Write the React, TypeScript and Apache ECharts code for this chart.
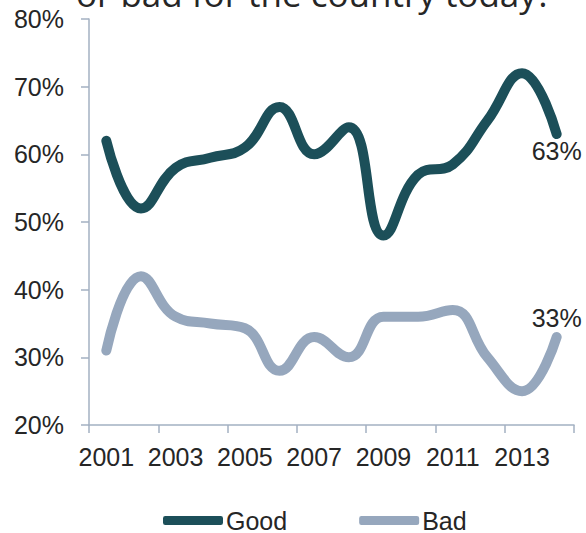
import React, { useEffect, useRef } from "react";
import * as echarts from "echarts";

const years = ["2001", "2002", "2003", "2004", "2005", "2006", "2007", "2008", "2009", "2010", "2011", "2012", "2013", "2014"];
const goodValues = [62, 52, 58, 59.5, 61, 67, 60, 64, 48, 57, 58.5, 65, 72, 63];
const badValues = [31, 42, 36, 35, 34.3, 28, 33, 30, 36, 36, 37, 30, 25, 33];
const yTicks = { min: 20, max: 80, interval: 10 };
const titleText = "or bad for the country today?";

export default function App() {
  const ref = useRef<HTMLDivElement>(null);
  useEffect(() => {
    if (!ref.current) return;
    const chart = echarts.init(ref.current, null, { renderer: "svg" });
    const font = "'Liberation Sans', Arial, sans-serif";
    const textColor = "#262626";
    const axisColor = "#a3b1c2";
    const lastLabel = (vals: number[], pos: string) =>
      vals.map((v, i) =>
        i === vals.length - 1
          ? {
              value: v,
              label: {
                show: true,
                position: pos,
                distance: pos === "bottom" ? 3 : 6,
                formatter: "{c}%",
                fontSize: 25,
                fontFamily: font,
                color: textColor,
              },
            }
          : v
      );
    chart.setOption({
      animation: false,
      backgroundColor: "#ffffff",
      textStyle: { fontFamily: font },
      graphic: [
        {
          type: "text",
          left: 76,
          top: -24,
          style: {
            text: titleText,
            fontSize: 35,
            fontFamily: "'Open Sans', sans-serif",
            fill: textColor,
          },
        },
      ],
      grid: { left: 89, right: 12, top: 19, bottom: 108, containLabel: false },
      legend: {
        left: 163,
        top: 508,
        padding: 0,
        itemWidth: 60,
        itemHeight: 9,
        itemGap: 72,
        icon: "roundRect",
        textStyle: { fontSize: 25, color: textColor, fontFamily: font, padding: [0, 0, 0, -2] },
        data: ["Good", "Bad"],
      },
      xAxis: {
        type: "category",
        data: years,
        boundaryGap: true,
        axisLine: { show: true, lineStyle: { color: axisColor, width: 1.5 } },
        axisTick: { show: true, interval: 1, length: 8, lineStyle: { color: axisColor, width: 1.5 } },
        axisLabel: { interval: 1, fontSize: 25, color: textColor, margin: 19, fontFamily: font },
        splitLine: { show: false },
      },
      yAxis: {
        type: "value",
        min: yTicks.min,
        max: yTicks.max,
        interval: yTicks.interval,
        axisLine: { show: true, lineStyle: { color: axisColor, width: 1.5 } },
        axisTick: { show: true, length: 8, lineStyle: { color: axisColor, width: 1.5 } },
        axisLabel: { formatter: "{value}%", fontSize: 25, color: textColor, margin: 25, fontFamily: font },
        splitLine: { show: false },
      },
      series: [
        {
          name: "Good",
          type: "line",
          data: lastLabel(goodValues, "bottom"),
          smooth: 0.45,
          showSymbol: true,
          symbol: "circle",
          symbolSize: 2,
          color: "#1c4f59",
          itemStyle: { color: "#1c4f59" },
          lineStyle: { width: 10, color: "#1c4f59", cap: "round", join: "round" },
        },
        {
          name: "Bad",
          type: "line",
          data: lastLabel(badValues, "top"),
          smooth: 0.45,
          showSymbol: true,
          symbol: "circle",
          symbolSize: 2,
          color: "#96a7bd",
          itemStyle: { color: "#96a7bd" },
          lineStyle: { width: 10, color: "#96a7bd", cap: "round", join: "round" },
        },
      ],
    });
    return () => chart.dispose();
  }, []);
  return (
    <div
      ref={ref}
      style={{ position: "fixed", left: 0, top: 0, width: 586, height: 533 }}
    />
  );
}
